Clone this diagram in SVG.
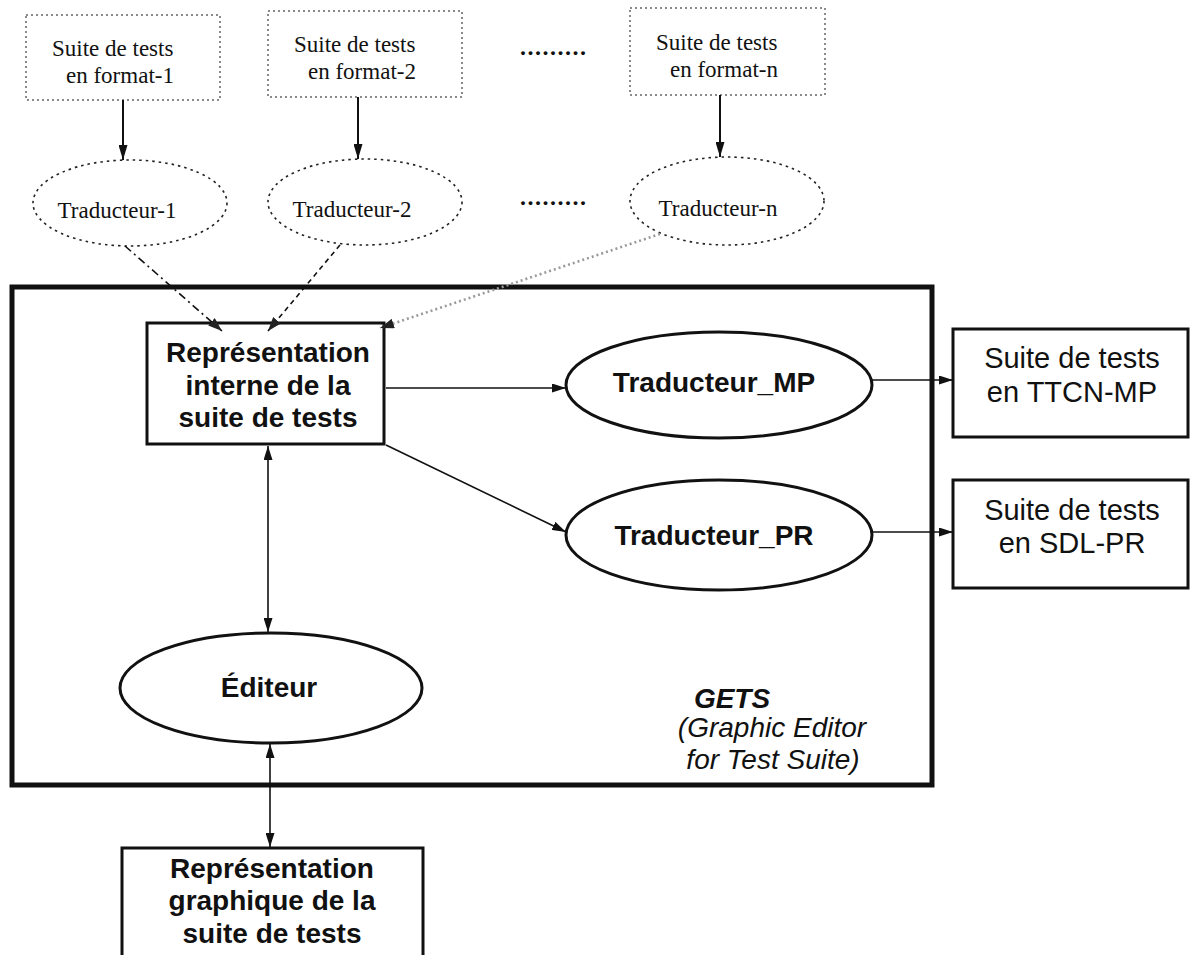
<svg xmlns="http://www.w3.org/2000/svg" width="1194" height="955" viewBox="0 0 1194 955">
  <defs>
    <marker id="head" viewBox="0 0 10 10" refX="10" refY="5" markerWidth="15" markerHeight="9" markerUnits="userSpaceOnUse" orient="auto" preserveAspectRatio="none">
      <path d="M0,0 L10,5 L0,10 Z" fill="#111"/>
    </marker>
    <marker id="head-s" viewBox="0 0 10 10" refX="10" refY="5" markerWidth="14" markerHeight="9" markerUnits="userSpaceOnUse" orient="auto-start-reverse" preserveAspectRatio="none">
      <path d="M0,0 L10,5 L0,10 Z" fill="#111"/>
    </marker>
    <marker id="head-v" viewBox="0 0 10 10" refX="10" refY="5" markerWidth="14" markerHeight="9" markerUnits="userSpaceOnUse" orient="auto-start-reverse" preserveAspectRatio="none">
      <path d="M0,0 L10,5 L0,10 Z" fill="#111"/>
    </marker>
    <marker id="head-g" viewBox="0 0 10 10" refX="10" refY="5" markerWidth="14" markerHeight="10" markerUnits="userSpaceOnUse" orient="auto" preserveAspectRatio="none">
      <path d="M0,0 L10,5 L0,10 Z" fill="#222"/>
    </marker>
  </defs>
  <style>
    .src { fill: #fff; stroke: #8a8a8a; stroke-width: 2; stroke-dasharray: 2 3; }
    .tr { fill: #fff; stroke: #222; stroke-width: 1.6; stroke-dasharray: 2.5 4; }
    .serif { font-family: "Liberation Serif", "Times New Roman", serif; font-size: 23px; fill: #111; }
    .sans { font-family: "Liberation Sans", Arial, Helvetica, sans-serif; font-size: 28px; fill: #111; }
    .b { font-weight: bold; }
    .it { font-style: italic; }
    .out { font-size: 29px; }
    .box { fill: #fff; stroke: #111; stroke-width: 3; }
    .ell { fill: #fff; stroke: #111; stroke-width: 3; }
    .line { fill: none; stroke: #111; stroke-width: 1.6; }
    .arrow-top { fill: none; stroke: #111; stroke-width: 2; }
    .dash-dot { stroke-dasharray: 8 4 2 4; }
    .dashed { stroke-dasharray: 5 4; }
    .grey-dots { fill: none; stroke: #9a9a9a; stroke-width: 2.6; stroke-dasharray: 2 3; }
    .dots { font-family: "Liberation Serif", serif; font-size: 24px; font-weight: bold; fill: #111; letter-spacing: 1.5px; }
  </style>

  <!-- GETS frame -->
  <g id="gets">
    <rect x="12" y="287" width="920" height="498" fill="none" stroke="#111" stroke-width="5"/>
    <text x="732" y="708" class="sans b it" text-anchor="middle">GETS</text>
    <text x="772" y="737" class="sans it" font-size="26" text-anchor="middle">(Graphic Editor</text>
    <text x="773" y="769" class="sans it" font-size="26" text-anchor="middle">for Test Suite)</text>
  </g>

  <!-- source test suites -->
  <g id="src1">
    <rect class="src" x="26" y="15" width="194" height="85"/>
    <text class="serif" x="52" y="56">Suite de tests</text>
    <text class="serif" x="66" y="83">en format-1</text>
  </g>
  <g id="src2">
    <rect class="src" x="268" y="11" width="194" height="86"/>
    <text class="serif" x="294" y="52">Suite de tests</text>
    <text class="serif" x="308" y="79">en format-2</text>
  </g>
  <g id="srcn">
    <rect class="src" x="630" y="8" width="195" height="87"/>
    <text class="serif" x="656" y="50">Suite de tests</text>
    <text class="serif" x="670" y="77">en format-n</text>
  </g>
  <g id="dots-top"><text class="dots" x="520" y="55">.........</text></g>

  <!-- front-end translators -->
  <g id="trad1">
    <ellipse class="tr" cx="130" cy="203" rx="97" ry="43"/>
    <text class="serif" x="117" y="218" text-anchor="middle">Traducteur-1</text>
  </g>
  <g id="trad2">
    <ellipse class="tr" cx="365" cy="202" rx="97" ry="43"/>
    <text class="serif" x="352" y="217" text-anchor="middle">Traducteur-2</text>
  </g>
  <g id="tradn">
    <ellipse class="tr" cx="727" cy="201" rx="97" ry="44"/>
    <text class="serif" x="718" y="216" text-anchor="middle">Traducteur-n</text>
  </g>
  <g id="dots-mid"><text class="dots" x="520" y="205">.........</text></g>

  <!-- internal representation -->
  <g id="rep-interne">
    <rect class="box" x="147" y="323" width="237" height="121"/>
    <text class="sans b" x="268" y="362" text-anchor="middle">Représentation</text>
    <text class="sans b" x="268" y="395" text-anchor="middle">interne de la</text>
    <text class="sans b" x="268" y="427" text-anchor="middle">suite de tests</text>
  </g>

  <g id="trad-mp">
    <ellipse class="ell" cx="719" cy="385" rx="153" ry="53"/>
    <text class="sans b" x="714" y="392" text-anchor="middle">Traducteur_MP</text>
  </g>
  <g id="trad-pr">
    <ellipse class="ell" cx="719" cy="535" rx="153" ry="55"/>
    <text class="sans b" x="714" y="545" text-anchor="middle">Traducteur_PR</text>
  </g>

  <g id="editeur">
    <ellipse class="ell" cx="271" cy="688" rx="151" ry="55"/>
    <text class="sans b" x="269" y="697" text-anchor="middle">Éditeur</text>
  </g>

  <g id="out-ttcn">
    <rect class="box" x="953" y="329" width="235" height="108"/>
    <text class="sans out" x="1072" y="368" text-anchor="middle">Suite de tests</text>
    <text class="sans out" x="1072" y="402" text-anchor="middle">en TTCN-MP</text>
  </g>
  <g id="out-sdl">
    <rect class="box" x="953" y="480" width="235" height="108"/>
    <text class="sans out" x="1072" y="520" text-anchor="middle">Suite de tests</text>
    <text class="sans out" x="1072" y="553" text-anchor="middle">en SDL-PR</text>
  </g>

  <g id="rep-graphique">
    <rect class="box" x="122" y="848" width="301" height="130"/>
    <text class="sans b" x="272" y="878" text-anchor="middle">Représentation</text>
    <text class="sans b" x="272" y="910" text-anchor="middle">graphique de la</text>
    <text class="sans b" x="272" y="943" text-anchor="middle">suite de tests</text>
  </g>

  <!-- connectors -->
  <g id="connectors">
    <line class="arrow-top" x1="123" y1="100" x2="123" y2="160" marker-end="url(#head)"/>
    <line class="arrow-top" x1="358" y1="97" x2="358" y2="159" marker-end="url(#head)"/>
    <line class="arrow-top" x1="720" y1="95" x2="720" y2="157" marker-end="url(#head)"/>

    <line class="line dash-dot" x1="125" y1="246" x2="222" y2="331" marker-end="url(#head-g)"/>
    <line class="line dashed" x1="340" y1="245" x2="268" y2="331" marker-end="url(#head-g)"/>
    <line class="grey-dots" x1="660" y1="234" x2="380" y2="328" marker-end="url(#head-g)"/>

    <line class="line" x1="386" y1="388" x2="566" y2="388" marker-end="url(#head-s)"/>
    <line class="line" x1="386" y1="445" x2="566" y2="532" marker-end="url(#head-s)"/>
    <line class="line" x1="872" y1="380" x2="953" y2="380" marker-end="url(#head-s)"/>
    <line class="line" x1="872" y1="532" x2="953" y2="532" marker-end="url(#head-s)"/>

    <line class="line" x1="268" y1="446" x2="268" y2="632" marker-start="url(#head-v)" marker-end="url(#head-v)"/>
    <line class="line" x1="270" y1="744" x2="270" y2="847" marker-start="url(#head-v)" marker-end="url(#head-v)"/>
  </g>
</svg>
